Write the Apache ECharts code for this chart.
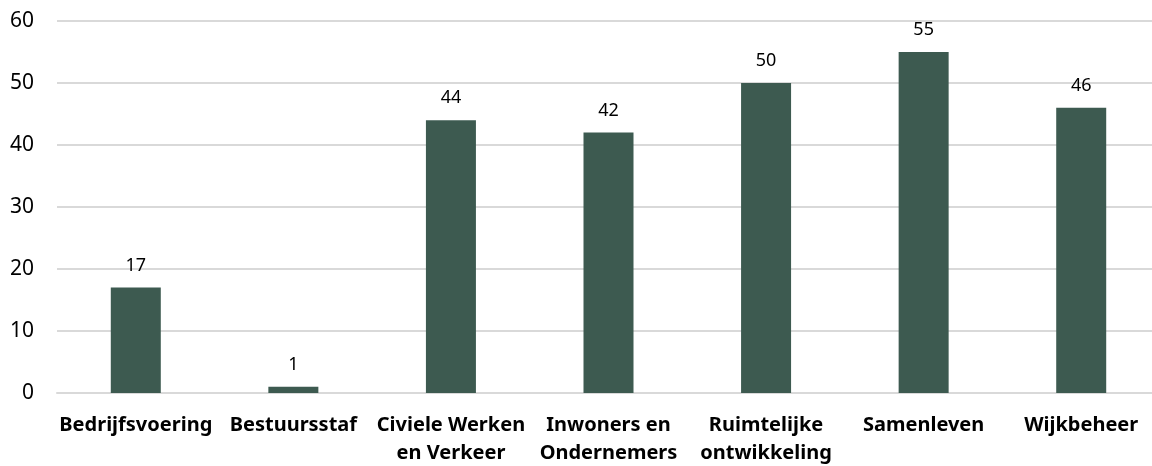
<!DOCTYPE html>
<html>
<head>
<meta charset="utf-8">
<script src="https://cdn.jsdelivr.net/npm/echarts@6/dist/echarts.min.js"></script>
<style>
  html, body { margin: 0; padding: 0; background: #ffffff; }
  #chart { width: 1152px; height: 466px; }
</style>
</head>
<body>
<div id="chart"></div>
<script>
// Departments (wrapped as shown on the axis) and their counts
const categories = [
  'Bedrijfsvoering',
  'Bestuursstaf',
  'Civiele Werken\nen Verkeer',
  'Inwoners en\nOndernemers',
  'Ruimtelijke\nontwikkeling',
  'Samenleven',
  'Wijkbeheer'
];
const values = [17, 1, 44, 42, 50, 55, 46];
const yTicks = { min: 0, max: 60, interval: 10 };

const FONT = '"Noto Sans", "Open Sans", sans-serif';

const chart = echarts.init(document.getElementById('chart'), null, { renderer: 'canvas' });
chart.setOption({
  animation: false,
  backgroundColor: '#ffffff',
  grid: {
    left: 57, top: 21, width: 1103, height: 372,
    outerBoundsMode: 'none',
    containLabel: false
  },
  xAxis: {
    type: 'category',
    data: categories,
    axisLine: { show: true, lineStyle: { color: '#D9D9D9', width: 2 } },
    axisTick: { show: false },
    axisLabel: {
      interval: 0,
      margin: 18,
      color: '#000000',
      fontFamily: FONT,
      fontWeight: 'bold',
      fontSize: 20,
      lineHeight: 28
    }
  },
  yAxis: {
    type: 'value',
    min: yTicks.min,
    max: yTicks.max,
    interval: yTicks.interval,
    axisLine: { show: false },
    axisTick: { show: false },
    splitLine: { lineStyle: { color: '#D9D9D9', width: 2 } },
    axisLabel: {
      margin: 23,
      color: '#000000',
      fontFamily: FONT,
      fontSize: 21
    }
  },
  series: [{
    type: 'bar',
    data: values,
    barWidth: 50,
    itemStyle: { color: '#3D5A50' },
    label: {
      show: true,
      position: 'top',
      distance: 13,
      color: '#000000',
      fontFamily: FONT,
      fontSize: 18
    }
  }]
});
</script>
</body>
</html>
